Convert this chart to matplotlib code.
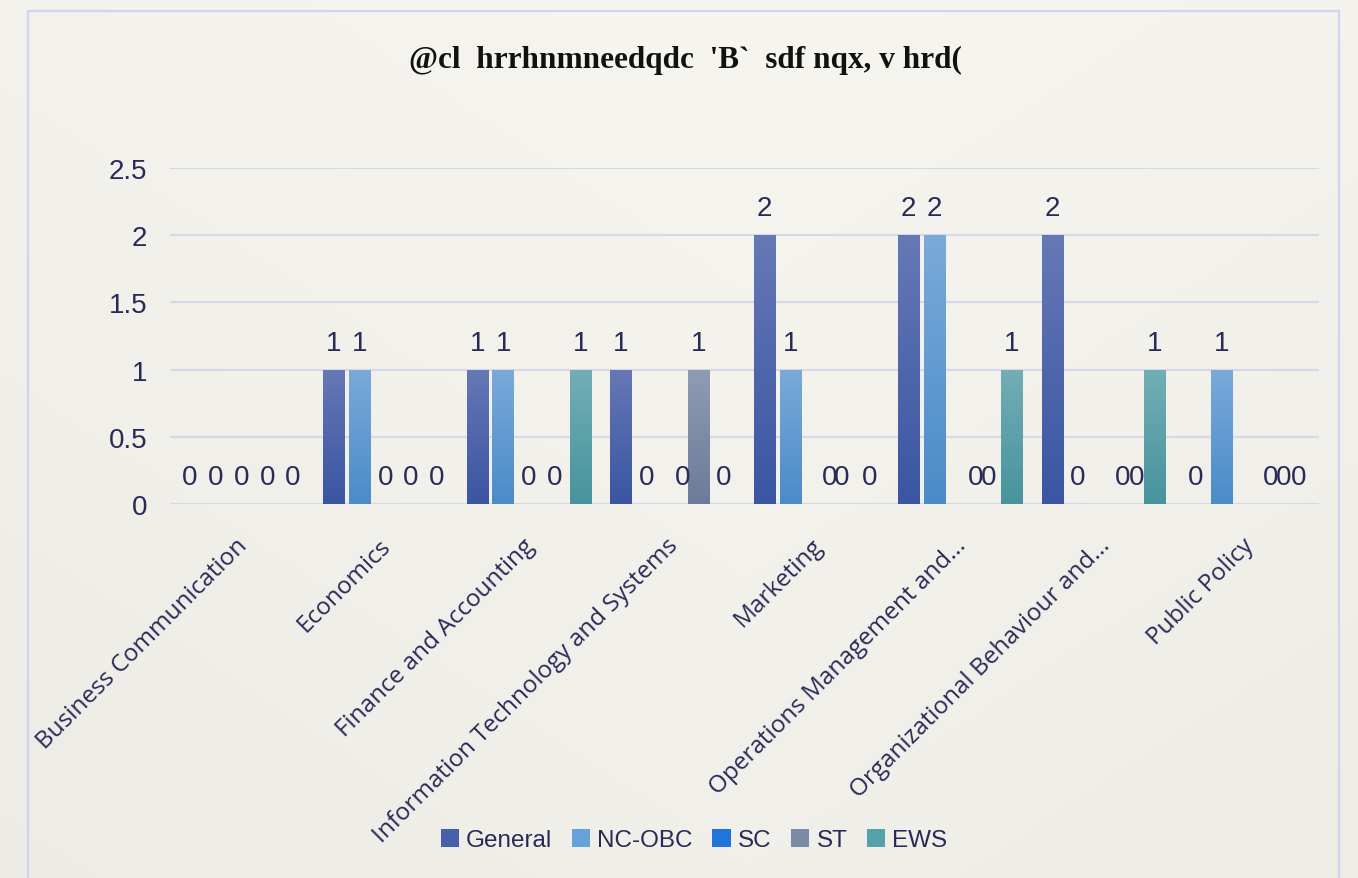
import numpy as np
import matplotlib
matplotlib.use("Agg")
import matplotlib.pyplot as plt
from matplotlib.colors import LinearSegmentedColormap, to_rgb
from matplotlib.patches import Rectangle

# ---- data ----
categories = [
    "Business Communication",
    "Economics",
    "Finance and Accounting",
    "Information Technology and Systems",
    "Marketing",
    "Operations Management and...",
    "Organizational Behaviour and...",
    "Public Policy",
]
series_names = ["General", "NC-OBC", "SC", "ST", "EWS"]
general = [0, 1, 1, 1, 2, 2, 2, 0]
nc_obc = [0, 1, 1, 0, 1, 2, 0, 1]
sc = [0, 0, 0, 0, 0, 0, 0, 0]
st = [0, 0, 0, 1, 0, 0, 0, 0]
ews = [0, 0, 1, 0, 0, 1, 1, 0]
title_text = "@cl  hrrhnmneedqdc  'B`  sdf nqx, v hrd("
y_ticks = [0, 0.5, 1, 1.5, 2, 2.5]

# ---- styling ----
TEXT = "#272b56"
GRID = "#d6d6ec"
# (legend/base colour, gradient top, gradient bottom)
palette = [
    ("#4660aa", "#6678b6", "#3a55a2"),
    ("#65a2da", "#7aaad9", "#4a8bc8"),
    ("#1f75d9", "#3a8ae0", "#1a6cc9"),
    ("#7b8aa6", "#8e9db3", "#6c7b97"),
    ("#55a2ab", "#73aeb6", "#47939c"),
]
# small horizontal shifts (px) for crowded zero labels
label_nudge_px = {(3, 2): 10, (4, 2): 13, (4, 4): 2, (5, 2): 16, (5, 3): 3,
                  (6, 2): 19, (6, 3): 7, (7, 2): 23, (7, 3): 11}

W, H, DPI = 1358, 879, 100
fig = plt.figure(figsize=(W / DPI, H / DPI), dpi=DPI)
fig.patch.set_facecolor("#f0efe9")

# soft background wash
bg = fig.add_axes([0, 0, 1, 1], zorder=-10)
yy, xx = np.mgrid[0:1:200j, 0:1:300j]
light = np.array(to_rgb("#f6f5ef"))
dark = np.array(to_rgb("#ebeae4"))
t = np.clip(0.55 * yy + 0.35 * np.abs(xx - 0.55) * 1.6, 0, 1)[..., None]
bg.imshow(light * (1 - t) + dark * t, aspect="auto", extent=[0, 1, 0, 1], origin="upper")
bg.set_axis_off()

# outer chart border
fig.patches.append(Rectangle((28 / W, -0.05), (1339 - 28) / W, 1.05 - 12 / H,
                             transform=fig.transFigure, fill=False,
                             edgecolor="#d3d3ee", linewidth=1.6, zorder=-5))

ax_left, ax_right = 169.6 / W, 1319.2 / W
ax_top, ax_bottom = 169 / H, 505 / H
ax = fig.add_axes([ax_left, 1 - ax_bottom, ax_right - ax_left, ax_bottom - ax_top])
ax.set_facecolor("none")

values = [general, nc_obc, sc, st, ews]
x = np.arange(len(categories))
pitch = 0.179
width = 0.148

for si, (name, vals) in enumerate(zip(series_names, values)):
    base, top_c, bot_c = palette[si]
    xs = x + (si - 2) * pitch
    bars = ax.bar(xs, vals, width=width, color=base, label=name, zorder=3)
    cmap = LinearSegmentedColormap.from_list(f"g{si}", [bot_c, top_c])
    grad = np.linspace(0, 1, 256).reshape(-1, 1)
    for b, v in zip(bars, vals):
        if v <= 0:
            continue
        bx = b.get_x()
        im = ax.imshow(grad, cmap=cmap, origin="lower", aspect="auto",
                       extent=[bx, bx + b.get_width(), 0, v], zorder=3.5)
        im.set_clip_path(b)
    for ci, (xi, v) in enumerate(zip(xs, vals)):
        dx = label_nudge_px.get((ci, si), 0) * 72 / DPI
        ax.annotate(f"{v:g}", (xi, v), xytext=(dx, 14.4), textcoords="offset points",
                    ha="center", va="baseline", fontsize=20, color=TEXT,
                    family="Liberation Sans", zorder=5)

ax.set_xlim(-0.5, len(categories) - 0.5)
ax.set_ylim(0, 2.5)
ax.set_yticks(y_ticks)
ax.set_yticklabels([f"{v:g}" for v in y_ticks], family="Liberation Sans",
                   fontsize=20, color=TEXT)
ax.yaxis.grid(True, color=GRID, linewidth=1.5, zorder=0)
ax.set_axisbelow(True)
ax.tick_params(axis="y", length=0, pad=16)
ax.tick_params(axis="x", length=0, pad=21)
ax.set_xticks(x)
ax.set_xticklabels(categories, rotation=45, ha="right", va="top",
                   family="Open Sans", fontsize=17.5, color=TEXT)
for lbl in ax.get_xticklabels():
    lbl.set_transform(lbl.get_transform() +
                      matplotlib.transforms.ScaledTranslation(11 / DPI, 0, fig.dpi_scale_trans))
for s in ax.spines.values():
    s.set_visible(False)
ax.axhline(0, color=GRID, linewidth=2, zorder=2)

fig.text(685 / W, 1 - 60 / H, title_text, ha="center", va="center",
         family="Liberation Serif", weight="bold", fontsize=22.5, color="#111111")

handles, labels = ax.get_legend_handles_labels()
leg = fig.legend(handles, labels, loc="center", bbox_to_anchor=(694 / W, 1 - 841 / H),
                 ncol=5, frameon=False, handlelength=0.75, handleheight=0.75,
                 handletextpad=0.3, columnspacing=0.8,
                 prop={"family": "Liberation Sans", "size": 17.5})
for txt in leg.get_texts():
    txt.set_color(TEXT)

fig.savefig("out.png", dpi=DPI)
